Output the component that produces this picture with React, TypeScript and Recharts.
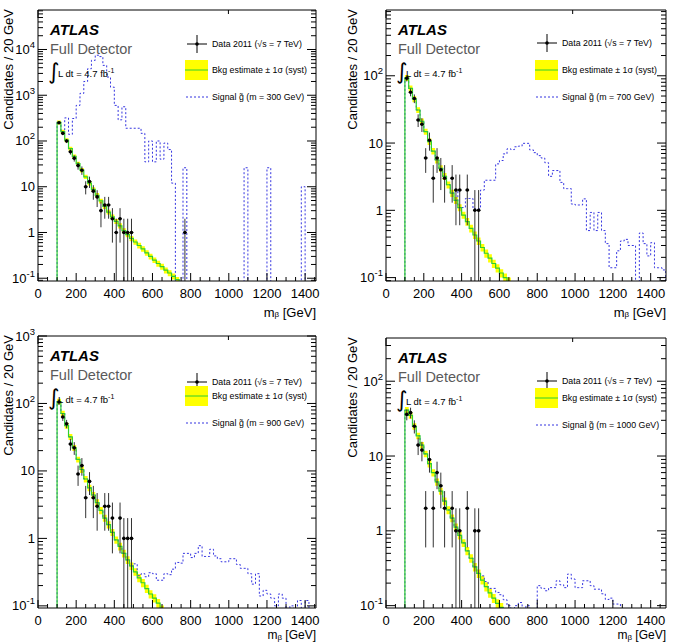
import React from "react";
import { ComposedChart, Line, Area, Scatter, ErrorBar, XAxis, YAxis } from "recharts";

const FONT = '"Liberation Sans", Arial, Helvetica, sans-serif';
const BIN = 20;
const PANEL_W = 337;
const PANEL_H = 321;

const YELLOW = "#ffff00";
const GREEN = "#2fcf2f";
const BLUE = "#3535e0";

// ---- m = 300 GeV ----
const bkg300Start = 100;
const bkg300 = [255, 160, 104, 68, 46, 32, 23, 16.5, 12, 8.8, 6.5, 4.9, 3.7, 2.8, 2.2, 1.75, 1.4, 1.1, 0.9, 0.74, 0.62, 0.52, 0.44, 0.36, 0.3, 0.25, 0.21, 0.18, 0.15, 0.13, 0.11, 0.093];
const syst300 = [10, 10, 10, 10, 10, 10, 11, 11, 11, 11, 12, 12, 12, 12, 12, 12, 13, 13, 13, 13, 13, 14, 14, 14, 14, 14, 15, 15, 15, 15, 15, 15];
const sig300Start = 140;
const sig300 = [
  320, 140, 310, 600, 1100, 2000, 3800, 5800, 7500, 7000, 4500, 2500, 1500, 600, 290, 560, 190, 190, 190, 190,
  147, 35, 100, 35, 100, 40, 90, 65, 12, 0, 0, 26,
  0, 0, 0, 0, 0, 0, 0, 0, 0, 0, 0, 0, 0, 0, 0, 26,
  0, 0, 0, 0, 0, 26,
  0, 0, 0, 0, 0, 0, 0, 0, 10, 0, 0, 0,
];
const data300Start = 100;
const data300 = [250, 147, 100, 58, 42, 29, 23, 10, 13, 8, 6, 3, 4, 4, 2, 1, 2, 1, 1, 1, 0, 0, 0, 0, 0, 0, 0, 0, 0, 0, 0, 0, 0, 1];
const err300 = [15.8, 12.1, 10, 7.6, 6.5, 5.4, 4.8, 3.2, 3.6, 2.8, 2.4, 1.7, 2, 2, 1.4, 1, 1.4, 1, 1, 1, 0, 0, 0, 0, 0, 0, 0, 0, 0, 0, 0, 0, 0, 1];

// ---- m = 700 GeV ----
const bkg700Start = 100;
const bkg700 = [93, 65, 45, 31, 21, 14.8, 10.5, 7.6, 5.6, 4.2, 3.2, 2.4, 1.8, 1.41, 1.1, 0.85, 0.68, 0.54, 0.43, 0.35, 0.28, 0.23, 0.195, 0.162, 0.138, 0.117, 0.1, 0.087];
const syst700 = [10, 10, 10, 10, 10, 10, 11, 11, 11, 11, 12, 12, 12, 12, 12, 12, 13, 13, 13, 13, 13, 14, 14, 14, 14, 14, 15, 15];
const sig700Start = 360;
const sig700 = [
  1.95, 1.1, 1.1, 1.5, 1.5, 1.05, 1.05, 2.0, 2.8, 2.8, 2.8, 4.9, 5.5, 6.9, 8.2, 8.0, 8.8, 9.0, 9.9, 9.9,
  7.9, 7.2, 6.5, 6.0, 5.1, 3.2, 3.9, 3.9, 2.6, 2.1, 2.1, 1.24, 1.2, 1.2, 1.48, 0.5, 0.93, 0.5, 0.93, 0.5,
  0.32, 0.14, 0.14, 0.25, 0.35, 0.37, 0.3, 0.3, 0, 0.46, 0.32, 0.21, 0.33, 0.14, 0.14, 0.13,
];
const data700Start = 100;
const data700 = [92, 57, 46, 22, 19, 6, 11, 3, 6, 4, 3, 0, 3, 2, 2, 0, 2, 0, 1, 1];
const err700 = [9.6, 7.5, 6.8, 4.7, 4.4, 2.4, 3.3, 1.7, 2.4, 2, 1.7, 0, 1.7, 1.4, 1.4, 0, 1.4, 0, 1, 1];

// ---- m = 900 GeV ----
const bkg900Start = 100;
const bkg900 = [107, 71, 47, 32, 22, 14.8, 10.5, 7.6, 5.6, 4.4, 3.4, 2.6, 2.0, 1.6, 1.23, 0.95, 0.76, 0.6, 0.48, 0.39, 0.32, 0.26, 0.22, 0.18, 0.15, 0.13, 0.11, 0.088];
const syst900 = [10, 10, 10, 10, 10, 10, 11, 11, 11, 11, 12, 12, 12, 12, 12, 12, 13, 13, 13, 13, 13, 14, 14, 14, 14, 14, 15, 15];
const sig900Start = 500;
const sig900 = [
  0.42, 0.28, 0.3, 0.27, 0.31, 0.3, 0.24, 0.24, 0.3, 0.29, 0.35, 0.44, 0.43, 0.6, 0.6, 0.52, 0.6, 0.78, 0.54, 0.54,
  0.69, 0.55, 0.5, 0.45, 0.45, 0.5, 0.5, 0.41, 0.36, 0.36, 0.3, 0.21, 0.3, 0.14, 0.17, 0.15, 0.13, 0.1, 0.15, 0.13,
  0, 0.1, 0, 0.12, 0, 0.12, 0, 0,
];
const data900Start = 100;
const data900 = [105, 63, 50, 25, 22, 9, 12, 4, 7, 4, 3, 0, 3, 3, 2, 0, 2, 1, 1, 1];
const err900 = [10.2, 7.9, 7.1, 5, 4.7, 3, 3.5, 2, 2.6, 2, 1.7, 0, 1.7, 1.7, 1.4, 0, 1.4, 1, 1, 1];

// ---- m = 1000 GeV ----
const bkg1000Start = 100;
const bkg1000 = [41, 35, 25, 18.6, 14, 10.7, 7.9, 6.0, 4.5, 3.4, 2.5, 1.9, 1.48, 1.12, 0.87, 0.69, 0.54, 0.43, 0.33, 0.27, 0.22, 0.18, 0.148, 0.126, 0.107, 0.095];
const syst1000 = [10, 10, 10, 10, 10, 10, 11, 11, 11, 11, 12, 12, 12, 12, 12, 12, 13, 13, 13, 13, 13, 14, 14, 14, 14, 14];
const sig1000Start = 500;
const sig1000 = [
  0.25, 0.21, 0.17, 0.17, 0.15, 0.14, 0.12, 0.1, 0, 0.1, 0.11, 0, 0.1, 0, 0,
  0.185, 0.17, 0.158, 0.174, 0.174, 0.215, 0.19, 0.174, 0.264, 0.227, 0.174, 0.174, 0.215, 0.215, 0.185,
  0.166, 0.166, 0.144, 0.121, 0.126, 0.105, 0.105, 0,
];
const data1000Start = 100;
const data1000 = [36, 38, 25, 14, 12, 2, 9, 2, 6, 4, 2, 0, 2, 1, 1, 0, 2, 0, 1, 1];
const err1000 = [6, 6.2, 5, 3.7, 3.5, 1.4, 3, 1.4, 2.4, 2, 1.4, 0, 1.4, 1, 1, 0, 1.4, 0, 1, 1];

const panels = [
  {
    mass: 300, ox: 0, oy: 0, plot: { l: 38, t: 10, r: 316, b: 281 }, xMax: 1457, yMin: 0.087, yMax: 73000,
    legendDy: 34, xTitleDy: 35.5, xTitleSize: 13, yTitleDx: 25,
    bkgStart: bkg300Start, bkg: bkg300, syst: syst300, sigStart: sig300Start, sig: sig300,
    dataStart: data300Start, data: data300, err: err300,
  },
  {
    mass: 700, ox: 336, oy: 0, plot: { l: 50, t: 10, r: 330, b: 281 }, xMax: 1481, yMin: 0.089, yMax: 950,
    legendDy: 33, xTitleDy: 35.5, xTitleSize: 13, yTitleDx: 29,
    bkgStart: bkg700Start, bkg: bkg700, syst: syst700, sigStart: sig700Start, sig: sig700,
    dataStart: data700Start, data: data700, err: err700,
  },
  {
    mass: 900, ox: 0, oy: 321, plot: { l: 38, t: 15, r: 316, b: 287 }, xMax: 1457, yMin: 0.093, yMax: 1000,
    legendDy: 46, xTitleDy: 31.3, xTitleSize: 12, yTitleDx: 25,
    bkgStart: bkg900Start, bkg: bkg900, syst: syst900, sigStart: sig900Start, sig: sig900,
    dataStart: data900Start, data: data900, err: err900,
  },
  {
    mass: 1000, ox: 336, oy: 321, plot: { l: 50, t: 17, r: 330, b: 287 }, xMax: 1481, yMin: 0.093, yMax: 378,
    legendDy: 43, xTitleDy: 31.3, xTitleSize: 12, yTitleDx: 29,
    bkgStart: bkg1000Start, bkg: bkg1000, syst: syst1000, sigStart: sig1000Start, sig: sig1000,
    dataStart: data1000Start, data: data1000, err: err1000,
  },
];

function histRows(p) {
  const floor = p.yMin / 5;
  const rows = [];
  for (let x = 0; x <= p.xMax + BIN; x += BIN) {
    const bi = (x - p.bkgStart) / BIN;
    const b = bi >= 0 && bi < p.bkg.length ? p.bkg[bi] : floor;
    const si = (x - p.sigStart) / BIN;
    let s = floor;
    if (si < 0) s = b; // signal is stacked on bkg, hidden below it here
    else if (si < p.sig.length && p.sig[si] > 0) s = p.sig[si];
    rows.push({ x, bkg: b, sig: s });
  }
  return rows;
}

// band rows only where the estimate exists (last row closes the final step)
function bandRows(p) {
  const rows = p.bkg.map((v, i) => ({
    x: p.bkgStart + i * BIN,
    band: [v * (1 - p.syst[i] / 100), v * (1 + p.syst[i] / 100)],
  }));
  const last = rows[rows.length - 1];
  rows.push({ x: last.x + BIN, band: last.band });
  return rows;
}

function dataPoints(p) {
  const pts = [];
  p.data.forEach((n, i) => {
    if (n > 0) {
      const e = p.err[i];
      // error bar stops at the bottom of the frame
      const low = Math.max(n - e, p.yMin);
      pts.push({ x: p.dataStart + i * BIN + BIN / 2, y: n, ey: [n - low, e], ex: BIN / 2 });
    }
  });
  return pts;
}

function xTicksFor(xMax) {
  const t = [];
  for (let v = 0; v <= xMax; v += 50) t.push(v);
  return t;
}

function logTicks(min, max) {
  const t = [];
  for (let e = Math.floor(Math.log10(min)); e <= Math.ceil(Math.log10(max)); e++) {
    for (let m = 1; m <= 9; m++) {
      const v = m * Math.pow(10, e);
      if (v >= min && v <= max) t.push(v);
    }
  }
  return t;
}

const isDecade = (v) => Math.abs(Math.log10(v) - Math.round(Math.log10(v))) < 1e-6;

const BottomTick = (props) => {
  const { x, y, payload } = props;
  const major = payload.value % 200 === 0;
  return (
    <g>
      <line x1={x} x2={x} y1={y} y2={y - (major ? 8 : 4)} stroke="#000" />
      {major && (
        <text x={x} y={y + 16.5} textAnchor="middle" fontSize={13} fontFamily={FONT} fill="#000">
          {payload.value}
        </text>
      )}
    </g>
  );
};

const TopTick = (props) => {
  const { x, y, payload } = props;
  const major = payload.value % 200 === 0;
  return <line x1={x} x2={x} y1={y} y2={y + (major ? 8 : 4)} stroke="#000" />;
};

const LeftTick = (props) => {
  const { x, y, payload } = props;
  const v = payload.value;
  const major = isDecade(v);
  const e = Math.round(Math.log10(v));
  return (
    <g>
      <line x1={x} x2={x + (major ? 9 : 5)} y1={y} y2={y} stroke="#000" />
      {major && (
        <text x={x - 3} y={y + 4.5} textAnchor="end" fontSize={13} fontFamily={FONT} fill="#000">
          {e === 0 ? "1" : e === 1 ? "10" : (
            <>
              10<tspan dy={-6} fontSize={9.5}>{e}</tspan>
            </>
          )}
        </text>
      )}
    </g>
  );
};

const RightTick = (props) => {
  const { x, y, payload } = props;
  const major = isDecade(payload.value);
  return <line x1={x} x2={x - (major ? 9 : 5)} y1={y} y2={y} stroke="#000" />;
};

function Overlay({ p }) {
  const { l, t, r, b } = p.plot;
  const dataY = t + p.legendDy;
  const bkgY = t + 60;
  const sigY = t + 87;
  const mx = r - 119;
  const tx = r - 104;
  return (
    <svg
      width={PANEL_W}
      height={PANEL_H}
      style={{ position: "absolute", left: 0, top: 0, pointerEvents: "none" }}
      fontFamily={FONT}
    >
      <text x={l + 12} y={t + 24.5} fontSize={15} fontWeight="bold" fontStyle="italic" fill="#000">
        ATLAS
      </text>
      <text x={l + 12} y={t + 43.5} fontSize={14.5} fill="#5a5a5a">
        Full Detector
      </text>
      <text x={l + 10} y={t + 69} fontSize={22} fontFamily="DejaVu Sans" fill="#000">
        ∫
      </text>
      <text x={l + 20} y={t + 67} fontSize={9.5} fill="#000">
        L dt = 4.7 fb<tspan dy={-4} fontSize={7}>-1</tspan>
      </text>

      <line x1={mx - 10} x2={mx + 10} y1={dataY} y2={dataY} stroke="#000" />
      <line x1={mx} x2={mx} y1={dataY - 9} y2={dataY + 9} stroke="#000" />
      <circle cx={mx} cy={dataY} r={1.8} fill="#000" />
      <text x={tx} y={dataY + 3.2} fontSize={8.8} fill="#000">
        Data 2011 (√s = 7 TeV)
      </text>

      <rect x={r - 131} y={bkgY - 10} width={23} height={20} fill={YELLOW} />
      <line x1={r - 131} x2={r - 108} y1={bkgY} y2={bkgY} stroke={GREEN} />
      <text x={tx} y={bkgY + 3.2} fontSize={8.8} fill="#000">
        Bkg estimate ± 1σ (syst)
      </text>

      <line x1={r - 130} x2={r - 108} y1={sigY} y2={sigY} stroke={BLUE} strokeDasharray="2 2" />
      <text x={tx} y={sigY + 3.2} fontSize={8.8} fill="#000">
        Signal g{"\u0303"} (m = {p.mass} GeV)
      </text>

      <text
        transform={`translate(${l - p.yTitleDx},${t - 1}) rotate(-90)`}
        textAnchor="end"
        fontSize={13}
        fill="#000"
      >
        Candidates / 20 GeV
      </text>
      <text x={r} y={b + p.xTitleDy} textAnchor="end" fontSize={p.xTitleSize} fill="#000">
        m<tspan dy={0.5} fontSize={8}>β</tspan>
        <tspan dy={-0.5}> [GeV]</tspan>
      </text>
    </svg>
  );
}

function PanelChart({ p }) {
  const { l, t, r, b } = p.plot;
  const rows = histRows(p);
  const band = bandRows(p);
  const pts = dataPoints(p);
  const xTicks = xTicksFor(p.xMax);
  const yTicks = logTicks(p.yMin, p.yMax);
  const xDomain = [0, p.xMax];
  const yDomain = [p.yMin, p.yMax];
  return (
    <div style={{ position: "absolute", left: p.ox, top: p.oy, width: PANEL_W, height: PANEL_H }}>
      <ComposedChart
        width={PANEL_W}
        height={PANEL_H}
        data={rows}
        margin={{ top: t - 1, right: PANEL_W - r - 1, bottom: PANEL_H - b - 1, left: l - 1 }}
      >
        <XAxis
          xAxisId="b"
          dataKey="x"
          type="number"
          domain={xDomain}
          allowDataOverflow
          ticks={xTicks}
          interval={0}
          height={1}
          tickSize={0}
          tickMargin={0}
          tickLine={false}
          axisLine={{ stroke: "#000" }}
          tick={BottomTick}
        />
        <XAxis
          xAxisId="t"
          orientation="top"
          type="number"
          domain={xDomain}
          allowDataOverflow
          ticks={xTicks}
          interval={0}
          height={1}
          tickSize={0}
          tickMargin={0}
          tickLine={false}
          axisLine={{ stroke: "#000" }}
          tick={TopTick}
        />
        <YAxis
          yAxisId="l"
          type="number"
          scale="log"
          domain={yDomain}
          allowDataOverflow
          ticks={yTicks}
          interval={0}
          width={1}
          tickSize={0}
          tickMargin={0}
          tickLine={false}
          axisLine={{ stroke: "#000" }}
          tick={LeftTick}
        />
        <YAxis
          yAxisId="r"
          orientation="right"
          type="number"
          scale="log"
          domain={yDomain}
          allowDataOverflow
          ticks={yTicks}
          interval={0}
          width={1}
          tickSize={0}
          tickMargin={0}
          tickLine={false}
          axisLine={{ stroke: "#000" }}
          tick={RightTick}
        />
        <Line
          xAxisId="b"
          yAxisId="l"
          dataKey="sig"
          type="stepAfter"
          stroke={BLUE}
          strokeWidth={1}
          strokeDasharray="2 2"
          dot={false}
          activeDot={false}
          isAnimationActive={false}
        />
        <Area
          xAxisId="b"
          yAxisId="l"
          data={band}
          dataKey="band"
          type="stepAfter"
          stroke="none"
          fill={YELLOW}
          fillOpacity={1}
          activeDot={false}
          isAnimationActive={false}
        />
        <Line
          xAxisId="b"
          yAxisId="l"
          dataKey="bkg"
          type="stepAfter"
          stroke={GREEN}
          strokeWidth={1.2}
          dot={false}
          activeDot={false}
          isAnimationActive={false}
        />
        <Scatter
          xAxisId="b"
          yAxisId="l"
          data={pts}
          dataKey="y"
          isAnimationActive={false}
          shape={(s) => <circle cx={s.cx} cy={s.cy} r={1.8} fill="#000" />}
        >
          <ErrorBar dataKey="ey" direction="y" width={0} stroke="#333" strokeWidth={1} />
          <ErrorBar dataKey="ex" direction="x" width={0} stroke="#333" strokeWidth={1} />
        </Scatter>
      </ComposedChart>
      <Overlay p={p} />
    </div>
  );
}

export default function App() {
  return (
    <div
      style={{
        position: "absolute",
        left: 0,
        top: 0,
        width: 673,
        height: 642,
        background: "#fff",
        overflow: "hidden",
      }}
    >
      {panels.map((p) => (
        <PanelChart key={p.mass} p={p} />
      ))}
    </div>
  );
}
